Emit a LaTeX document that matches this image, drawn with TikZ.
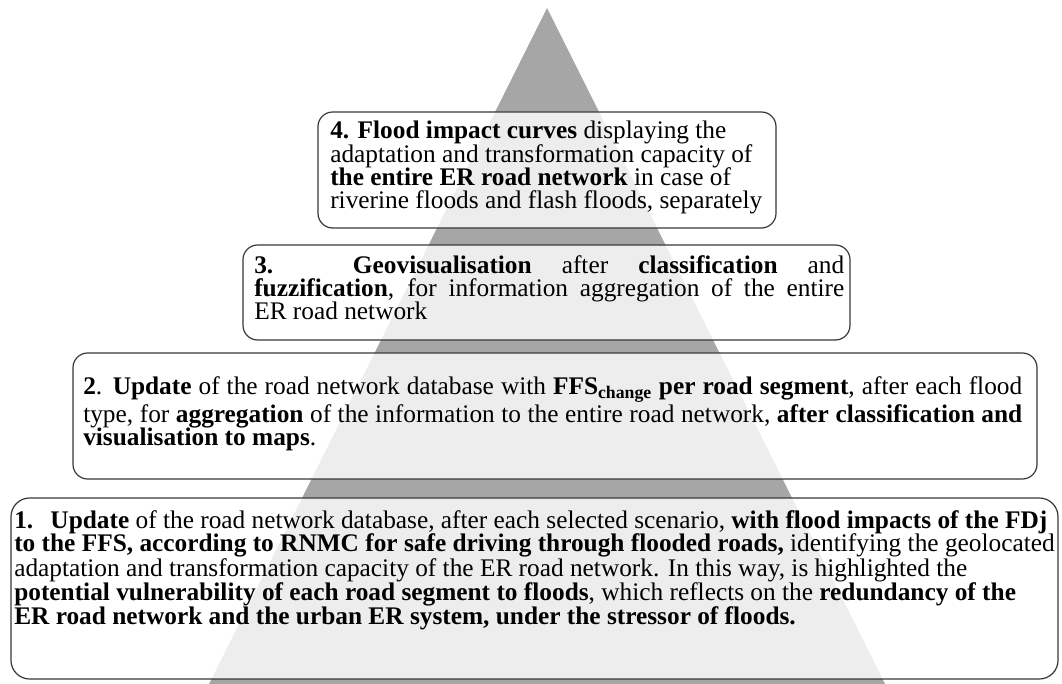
\documentclass[tikz,border=0pt]{standalone}
\usepackage{fontspec}
\setmainfont{Liberation Serif}
\begin{document}
\begin{tikzpicture}[x=0.75pt,y=0.75pt,
  tier/.style={draw=black!78, line width=0.9pt, rounded corners=11pt,
               fill=white, fill opacity=0.8},
  tiertext/.style={inner sep=0pt, text opacity=1, anchor=north west,
                   font=\fontsize{19}{17.5}\selectfont}]
\useasboundingbox (0,0) rectangle (1062,684);

% pyramid in the background
\fill[black!35] (209,0) -- (547,676) -- (885,0) -- cycle;

% tier frames, bottom to top
\path[tier, rounded corners=14pt] (11,5) rectangle (1058,186);
\path[tier] (73,205) rectangle (1037,331);
\path[tier] (243,344) rectangle (850,439);
\path[tier] (318,456) rectangle (776,572);

% tier 4
\node[tiertext, align=left] (t4) at (330,563)
  {\textbf{4. Flood impact curves} displaying the\\
   adaptation and transformation capacity of\\
   \textbf{the entire ER road network} in case of\\
   riverine floods and flash floods, separately};

% tier 3
\node[tiertext, text width=442.5pt, align=justify] (t3) at (254,429)
  {\textbf{3.} \textbf{Geovisualisation} after \textbf{classification} and\linebreak
   \textbf{fuzzification}, for information aggregation of the entire\linebreak
   ER road network};

% tier 2
\node[tiertext, text width=704.25pt, align=justify] (t2) at (83,307.5)
  {\textbf{2}. \textbf{Update} of the road network database with
   \textbf{FFS\textsubscript{change} per road segment}, after each flood\linebreak
   type, for \textbf{aggregation} of the information to the entire road network,
   \textbf{after classification and}\linebreak
   \textbf{visualisation to maps}.};

% tier 1
\node[tiertext, align=left] (t1) at (14,173.5)
  {\textbf{1.}\hspace{0.68em}\textbf{Update} of the road network database, after each selected scenario, \textbf{with flood impacts of the FDj}\\
   \textbf{to the FFS, according to RNMC for safe driving through flooded roads,} identifying the geolocated\\
   adaptation and transformation capacity of the ER road network. In this way, is highlighted the\\
   \textbf{potential vulnerability of each road segment to floods}, which reflects on the \textbf{redundancy of the}\\
   \textbf{ER road network and the urban ER system, under the stressor of floods.}};
\end{tikzpicture}
\end{document}
